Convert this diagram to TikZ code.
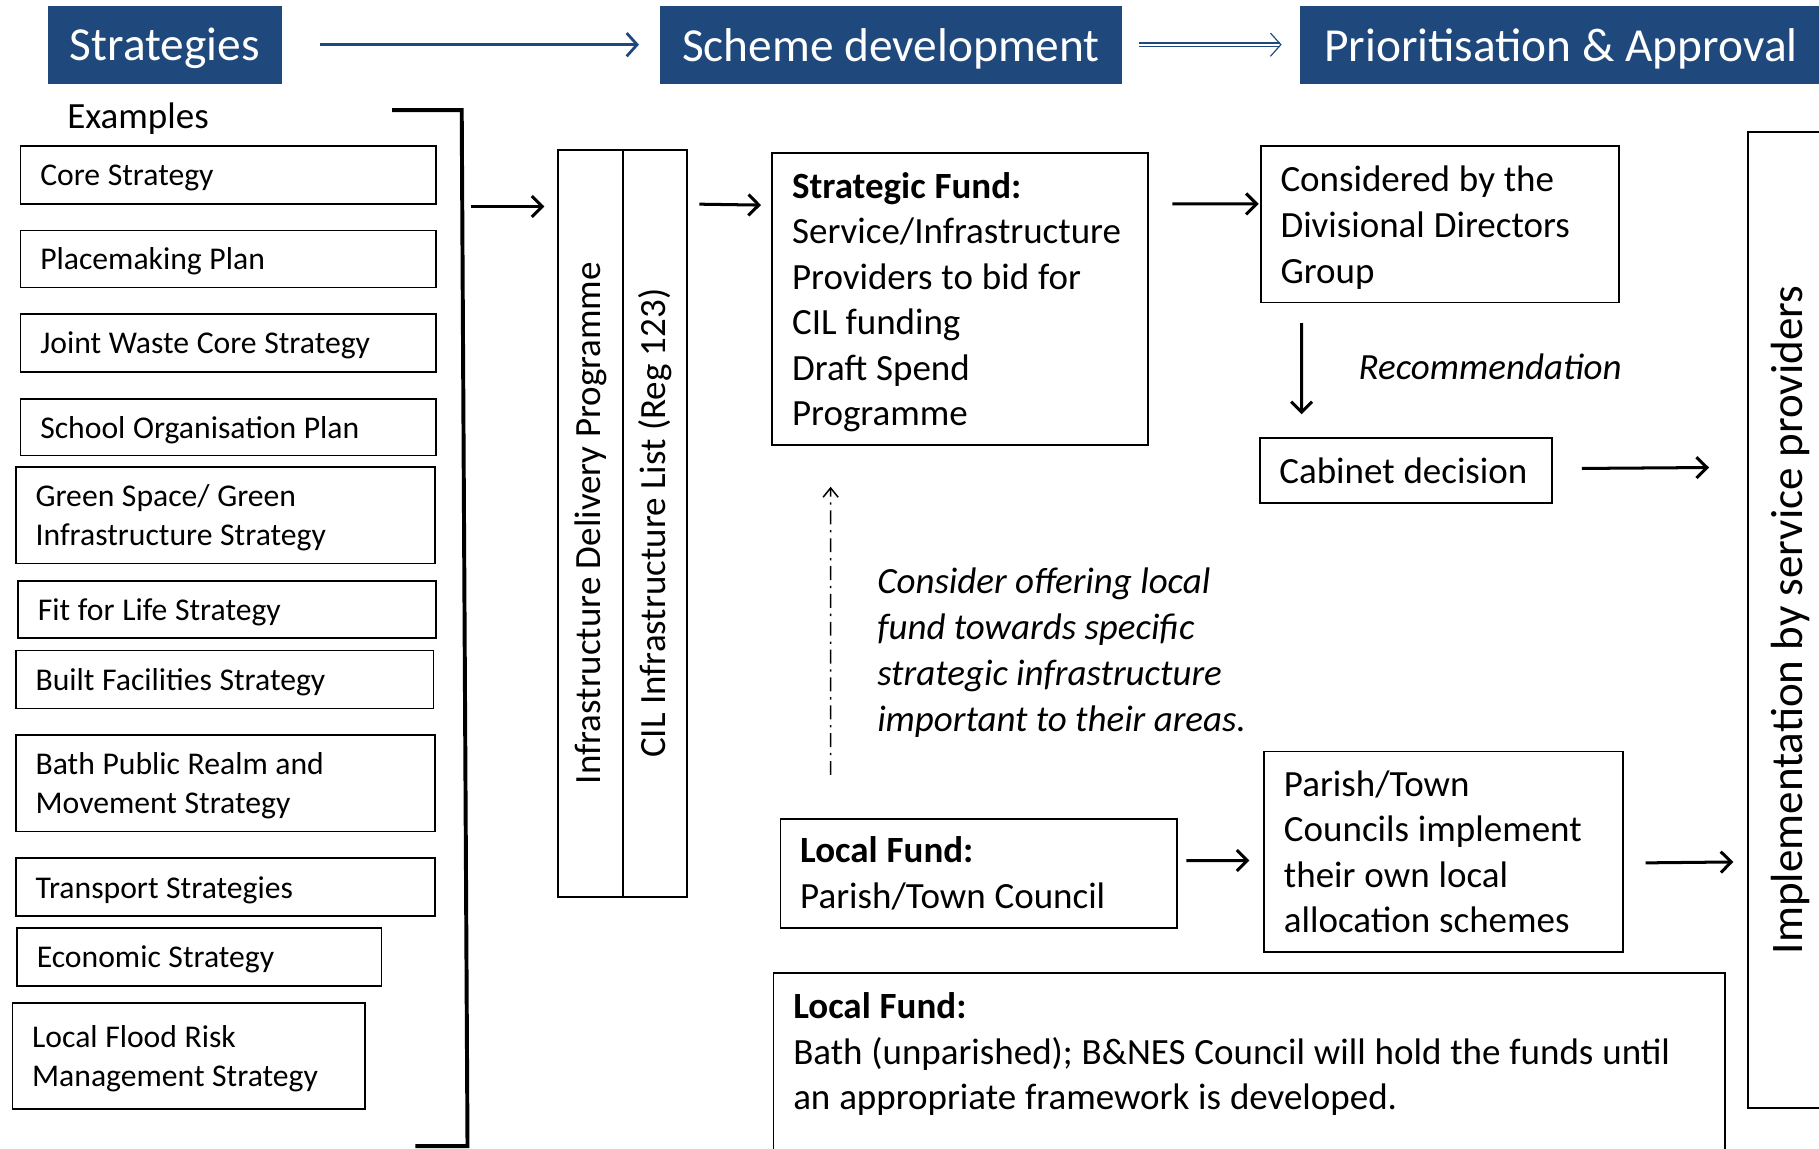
\documentclass[tikz,border=0pt]{standalone}
\usepackage{fontspec}
\setmainfont{Carlito}
\usetikzlibrary{arrows.meta}
\definecolor{hdrblue}{RGB}{31,73,125}
\newcommand{\tightspace}{\spaceskip=0.24em plus 0.08em minus 0.04em\relax}

\begin{document}
\begin{tikzpicture}[x=1bp, y=-1bp,
  hdr/.style={fill=hdrblue, text=white, font=\fontsize{41}{49}\selectfont, minimum height=67bp, inner sep=0pt, text depth=0pt},
  exbox/.style={draw, line width=1.4bp, anchor=north west, align=left, inner xsep=17bp, inner ysep=0pt, text height=23.5bp,
    font=\fontsize{27.4}{34}\selectfont, execute at begin node=\tightspace},
  fbox/.style={draw, line width=1.6bp, anchor=north west, align=left, inner xsep=17bp, inner ysep=0pt,
    font=\fontsize{32}{39.4}\selectfont, execute at begin node=\tightspace},
  vbox/.style={draw, line width=1.6bp, rotate=90, inner sep=0pt},
  arr/.style={-{Straight Barb[length=9bp,width=18bp]}, line width=2.6bp},
  hdrarr/.style={hdrblue, -{Straight Barb[length=9bp,width=20bp]}},
  note/.style={font=\fontsize{32}{39.6}\selectfont\itshape, align=left, inner sep=0pt, anchor=west}]
  \useasboundingbox (0,0) rectangle (1568,990);
  \clip (0,0) rectangle (1568,990);

  % stage headers
  \node[hdr, minimum width=202bp] (str) at (142,38.5) {Strategies};
  \node[hdr, minimum width=398bp] (sch) at (768,38.5) {Scheme development};
  \node[hdr, minimum width=449bp] (pri) at (1345.5,38.5) {Prioritisation \& Approval};
  \draw[hdrarr, line width=2.4bp] ([xshift=33bp]str.east) -- ([xshift=-18bp]sch.west);
  \draw[hdrarr, line width=1bp, double distance=2bp] ([xshift=15bp]sch.east) -- ([xshift=-16bp]pri.west);

  % list of example strategies
  \node[font=\fontsize{32}{39}\selectfont] (exl) at (119,102.5) {Examples};
  \node[exbox, text width=324bp, minimum height=50bp] (ex1) at (17,125) {Core Strategy};
  \node[exbox, text width=324bp, minimum height=49bp] (ex2) at (17,198) {Placemaking Plan};
  \node[exbox, text width=324bp, minimum height=50bp] (ex3) at (17,270) {Joint Waste Core Strategy};
  \node[exbox, text width=324bp, minimum height=49bp] (ex4) at (17,343) {School Organisation Plan};
  \node[exbox, text width=327bp, minimum height=83bp] (ex5) at (13,402) {Green Space/ Green\\Infrastructure Strategy};
  \node[exbox, text width=326bp, minimum height=49bp] (ex6) at (15,500) {Fit for Life Strategy};
  \node[exbox, text width=326bp, minimum height=50bp] (ex7) at (13,560) {Built Facilities Strategy};
  \node[exbox, text width=327bp, minimum height=83bp] (ex8) at (13,633) {Bath Public Realm and\\Movement Strategy};
  \node[exbox, text width=327bp, minimum height=50bp] (ex9) at (13,739) {Transport Strategies};
  \node[exbox, text width=280bp, minimum height=50bp] (ex10) at (14,799) {Economic Strategy};
  \node[exbox, text width=270bp, minimum height=91bp] (ex11) at (10,864) {Local Flood Risk\\Management Strategy};

  % bracket gathering the list
  \draw[line width=3.4bp] (338,95) -- (398,95) -- (403,988) -- (358,988);
  \coordinate (brk) at (406,178);

  % delivery programme columns
  \node[vbox, minimum width=644bp, minimum height=56bp, font=\fontsize{32}{39}\selectfont] (idp) at (509,451) {Infrastructure Delivery Programme};
  \node[vbox, minimum width=644bp, minimum height=55bp, font=\fontsize{32}{39}\selectfont] (cil) at (564.5,451) {CIL Infrastructure List (Reg 123)};
  \draw[arr, shorten >=11bp] (brk) -- (brk -| idp.north);

  % strategic fund route
  \node[fbox, text width=290bp, minimum height=252bp, text height=28bp] (sf) at (665,131)
    {\bfseries Strategic Fund:\\ \mdseries Service/Infrastructure\\Providers to bid for\\CIL funding\\Draft Spend\\Programme};
  \node[fbox, text width=275bp, minimum height=135bp, text height=28bp] (ddg) at (1086,125) {Considered by the\\Divisional Directors\\Group};
  \node[fbox, text width=218bp, minimum height=56bp] (cab) at (1085,377) {Cabinet decision};
  \node[note] (rec) at (1171,316) {Recommendation};
  \draw[arr] ([xshift=10bp,yshift=275bp]cil.south) -- ([xshift=-9bp,yshift=81bp]sf.west);
  \draw[arr] ([xshift=20bp,yshift=82bp]sf.east) -- ([xshift=-1bp,yshift=17.5bp]ddg.west);
  \draw[arr] ([xshift=36bp,yshift=-17bp]ddg.south west) -- ([xshift=37bp,yshift=20bp]cab.north west);

  % local fund route
  \node[fbox, text width=308bp, minimum height=94bp] (lf) at (672,705) {\bfseries Local Fund:\\ \mdseries Parish/Town Council};
  \node[fbox, text width=275bp, minimum height=173bp] (ptc) at (1089,647)
    {Parish/Town\\Councils implement\\their own local\\allocation schemes};
  \node[note] (off) at (756,562.5) {Consider offering local\\fund towards specific\\strategic infrastructure\\important to their areas.};
  \draw[-{Straight Barb[length=8bp,width=13bp]}, line width=1.3bp, dash pattern=on 12bp off 5bp on 2bp off 5bp]
    ([xshift=44bp,yshift=37bp]lf.north west) -- ([xshift=51bp,yshift=-35bp]sf.south west);
  \draw[arr] ([xshift=7bp,yshift=11bp]lf.east) -- ([xshift=-12bp,yshift=-7.5bp]ptc.west);

  % unparished area
  \node[fbox, text width=786bp, inner ysep=17bp, text depth=120bp] (lfb) at (666,838)
    {\bfseries Local Fund:\\ \mdseries Bath (unparished); B\&NES Council will hold the funds until\\an appropriate framework is developed.};

  % delivery
  \node[vbox, minimum width=841bp, minimum height=73bp, font=\fontsize{39}{47}\selectfont] (impl) at (1543.5,534.5) {Implementation by service providers};
  \draw[arr] ([xshift=25bp,yshift=2bp]cab.east) -- ([xshift=-33bp,yshift=131.5bp]impl.north);
  \draw[arr] ([xshift=19bp,yshift=-9.5bp]ptc.east) -- ([xshift=-12bp,yshift=-208.5bp]impl.north);
\end{tikzpicture}
\end{document}
